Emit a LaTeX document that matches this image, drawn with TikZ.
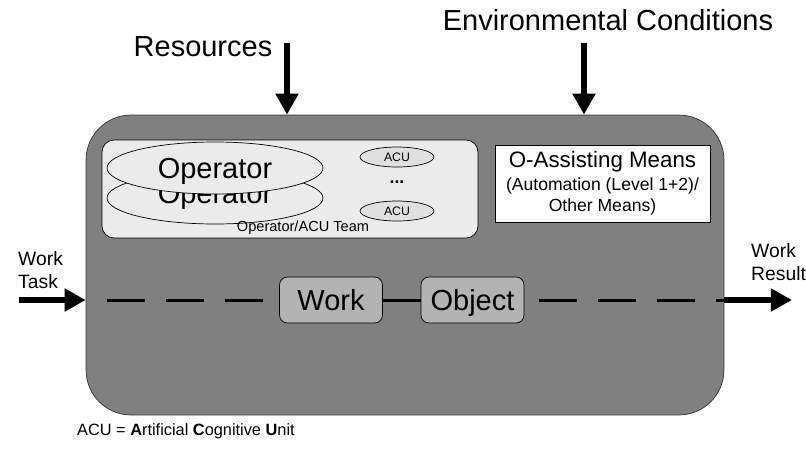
\documentclass[tikz,border=0pt]{standalone}
\usepackage{fontspec}
\setmainfont{Liberation Sans}
\usepackage{tikz}
\usetikzlibrary{shapes.geometric}
\usetikzlibrary{positioning}
\usetikzlibrary{arrows.meta}
\definecolor{boxgray}{RGB}{128,128,128}
\definecolor{teamgray}{RGB}{235,235,235}
\definecolor{workgray}{RGB}{179,179,179}
\definecolor{acugray}{RGB}{224,224,224}
\tikzstyle{system} = [rectangle, rounded corners=0.9cm, minimum width=12.76cm, minimum height=6cm, draw=black!80, fill=boxgray]
\tikzstyle{team} = [rectangle, rounded corners=0.24cm, minimum width=7.52cm, minimum height=1.96cm, draw=black, fill=teamgray]
\tikzstyle{operator} = [ellipse, minimum width=4.32cm, minimum height=1.04cm, inner sep=0pt, text height=12pt, text depth=0pt, draw=black, fill=teamgray, font=\fontsize{16.5}{18}\selectfont]
\tikzstyle{acu} = [ellipse, minimum width=1.48cm, minimum height=0.4cm, inner sep=0pt, draw=black, fill=acugray, font=\fontsize{7}{8}\selectfont]
\tikzstyle{means} = [rectangle, minimum width=4.3cm, minimum height=1.54cm, draw=black, fill=white, align=center]
\tikzstyle{workbox} = [rectangle, rounded corners=0.16cm, minimum width=2.06cm, minimum height=0.92cm, text height=12pt, text depth=0pt, draw=black, fill=workgray, font=\fontsize{16.5}{18}\selectfont]
\tikzstyle{bigtext} = [font=\fontsize{16.5}{18}\selectfont]
\tikzstyle{sidetext} = [align=left, font=\fontsize{11}{13}\selectfont]
\tikzstyle{arrow} = [line width=3.3pt, -{Triangle[length=12pt,width=12.5pt]}]
\tikzstyle{dashline} = [line width=1.7pt, dash pattern=on 0.76cm off 0.42cm]

\begin{document}
\begin{tikzpicture}[x=0.02cm, y=-0.02cm]
        \useasboundingbox (0,0) rectangle (806,461);
        \node (system) [system] at (405,265) {};
        \node (team) [team] at (290,189) {};
        \node (operatorback) [operator, text depth=5.6pt] at (215,198) {Operator};
        \node (operatorfront) [operator] at (215,168) {Operator};
        \node (acutop) [acu] at (397,157) {ACU};
        \node (dots) [font=\fontsize{10}{12}\selectfont\bfseries] at (397,182) {...};
        \node (acubottom) [acu] at (397,211) {ACU};
        \node (teamname) [font=\fontsize{8.3}{10}\selectfont] at (303,228) {Operator/ACU Team};
        \node (means) [means] at (602.5,183.5) {{\fontsize{12.7}{15}\selectfont O-Assisting Means}\\[1pt]{\fontsize{10}{12.5}\selectfont (Automation (Level 1+2)/}\\{\fontsize{10}{12.5}\selectfont Other Means)}};
        \node (work) [workbox] at (331,300) {Work};
        \node (object) [workbox] at (472.5,300) {Object};

        \node (resources) [bigtext] at (203,47) {Resources};
        \node (environment) [bigtext] at (608,20) {Environmental Conditions};
        \node (task) [sidetext, anchor=west] at (12,270) {Work\\Task};
        \node (result) [sidetext, anchor=west] at (745,262) {Work\\Result};
        \node (legend) [anchor=west, font=\fontsize{9.3}{11}\selectfont] at (71,431) {ACU = \textbf{A}rtificial \textbf{C}ognitive \textbf{U}nit};

        \coordinate (resin) at (287,43);
        \coordinate (envin) at (584,43);
        \coordinate (taskin) at (19,300);
        \coordinate (resultout) at (792,300);

        \draw [arrow] (resin) -- (resin |- system.north);
        \draw [arrow] (envin) -- (envin |- system.north);
        \draw [arrow] (taskin) -- (taskin -| system.west);
        \draw [arrow] (resultout -| system.east) -- (resultout);
        \draw [dashline, dash phase=0.76cm] (work -| system.west) -- (work.west);
        \draw [dashline, dash phase=0.88cm] (object.east) -- (object -| system.east);
        \draw [line width=1.7pt] (work.east) -- (object.west);
    \end{tikzpicture}
\end{document}
